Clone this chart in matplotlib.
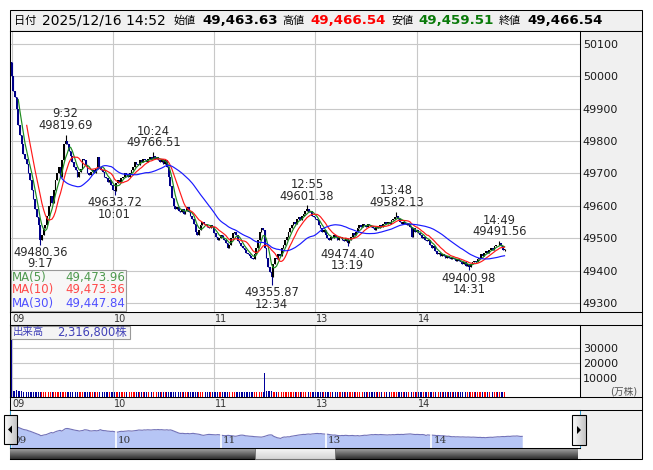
import matplotlib.pyplot as plt
import numpy as np
import pandas as pd
from matplotlib.patches import Rectangle, Polygon
from matplotlib.colors import to_rgb

plt.rcParams['font.family'] = ['DejaVu Sans', 'Noto Sans CJK JP']

W, H = 653, 470

# header (last 1-minute bar)
quote_time = "2025/12/16 14:52"
open_price = 49463.63
high_price = 49466.54
low_price = 49459.51
close_price = 49466.54

# 1-minute closes, 9:00-11:29 then 12:30-14:52 (lunch removed)
first_open = 50045.0
closes_am = [
    50000, 49955, 49935, 49900, 49850, 49820, 49790, 49760, 49745, 49730,
    49700, 49680, 49650, 49620, 49590, 49565, 49540, 49495, 49510, 49530,
    49540, 49570, 49600, 49630, 49610, 49650, 49680, 49700, 49720, 49690,
    49740, 49790, 49800, 49790, 49770, 49755, 49735, 49720, 49710, 49690,
    49705, 49715, 49745, 49740, 49725, 49700, 49695, 49705, 49710, 49700,
    49715, 49750, 49720, 49710, 49705, 49690, 49685, 49675, 49680, 49665,
    49650, 49645, 49670, 49680, 49675, 49685, 49690, 49700, 49695, 49690,
    49700, 49710, 49720, 49735, 49730, 49725, 49740, 49735, 49745, 49740,
    49735, 49745, 49750, 49745, 49755, 49745, 49750, 49740, 49735, 49745,
    49730, 49740, 49720, 49690, 49660, 49625, 49600, 49590, 49595, 49585,
    49580, 49590, 49575, 49585, 49595, 49580, 49570, 49560, 49545, 49520,
    49510, 49525, 49540, 49550, 49545, 49540, 49535, 49530, 49540, 49535,
    49515, 49505, 49495, 49500, 49510, 49500, 49495, 49485, 49470, 49480,
    49500, 49515, 49520, 49510, 49490, 49485, 49475, 49470, 49465, 49455,
    49450, 49445, 49440, 49435, 49450, 49470, 49495, 49520, 49530, 49525,
]
closes_pm = [
    49470, 49440, 49410, 49395, 49380, 49420, 49440, 49435, 49450, 49445,
    49470, 49480, 49495, 49505, 49520, 49530, 49540, 49550, 49545, 49560,
    49565, 49555, 49570, 49575, 49585, 49590, 49580, 49585, 49570, 49565,
    49560, 49555, 49540, 49530, 49520, 49525, 49510, 49500, 49495, 49505,
    49500, 49510, 49505, 49495, 49500, 49505, 49495, 49490, 49500, 49485,
    49495, 49505, 49515, 49510, 49520, 49530, 49540, 49535, 49545, 49540,
    49535, 49545, 49540, 49535, 49530, 49525, 49535, 49530, 49540, 49535,
    49545, 49550, 49545, 49550, 49545, 49555, 49560, 49565, 49570, 49560,
    49550, 49545, 49550, 49545, 49540, 49545, 49535, 49505, 49530, 49520,
    49525, 49515, 49510, 49500, 49505, 49495, 49490, 49495, 49480, 49470,
    49475, 49460, 49450, 49455, 49445, 49450, 49445, 49440, 49445, 49440,
    49435, 49440, 49435, 49430, 49435, 49430, 49425, 49420, 49425, 49415,
    49420, 49410, 49420, 49425, 49430, 49425, 49435, 49440, 49450, 49445,
    49455, 49460, 49455, 49465, 49470, 49465, 49475, 49480, 49478, 49485,
    49475, 49463.63, 49466.54,
]

# volume per minute (万株)
volumes = [
    50000, 4300, 4200, 4400, 4100, 4300, 4000, 3600, 3500, 3600, 3400, 3500, 3600, 3400, 3500,
    3300, 3500, 3600, 3400, 3500, 3300, 3400, 3500, 3300, 3200, 3400, 3300, 3500, 3300, 3200,
    3600, 3300, 3400, 3200, 3300, 3100, 3200, 3300, 3200, 3100, 3200, 3300, 3200, 3100, 3200,
    3300, 3100, 3200, 3300, 3100, 3200, 3300, 3100, 3200, 3100, 3200, 3300, 3100, 3200, 3100,
    3300, 3200, 3100, 3200, 3100, 3200, 3100, 3200, 3300, 3100, 3200, 3100, 3200, 3100, 3200,
    3100, 3200, 3300, 3100, 3200, 3100, 3200, 3100, 3200, 3100, 3200, 3100, 3200, 3100, 3200,
    3100, 3200, 3300, 3400, 3300, 3200, 3100, 3200, 3100, 3200, 3100, 3200, 3100, 3200, 3100,
    3200, 3100, 3200, 3100, 3200, 3100, 3200, 3100, 3200, 3100, 3200, 3100, 3200, 3100, 3200,
    3100, 3200, 3100, 3200, 3100, 3200, 3100, 3200, 3100, 3200, 3100, 3200, 3100, 3200, 3100,
    3200, 3100, 3200, 3100, 3200, 3100, 3200, 3100, 3200, 3100, 3200, 3100, 3200, 3100, 3300,
    16200, 4000, 3800, 3900, 3700, 3600, 3500, 3400, 3300, 3400, 3300, 3200, 3300, 3200, 3300,
    3200, 3100, 3200, 3300, 3100, 3200, 3100, 3200, 3300, 3200, 3100, 3200, 3100, 3200, 3100,
    3200, 3100, 3200, 3100, 3200, 3100, 3200, 3100, 3200, 3100, 3200, 3100, 3200, 3100, 3200,
    3100, 3200, 3100, 3200, 3100, 3200, 3100, 3200, 3100, 3200, 3100, 3200, 3100, 3200, 3100,
    3200, 3100, 3200, 3100, 3200, 3100, 3200, 3100, 3200, 3100, 3200, 3100, 3200, 3100, 3200,
    3100, 3200, 3100, 3200, 3100, 3200, 3100, 3200, 3100, 3200, 3100, 3200, 3100, 3200, 3100,
    3200, 3100, 3200, 3100, 3200, 3100, 3200, 3100, 3200, 3100, 3200, 3100, 3200, 3100, 3200,
    3100, 3200, 3100, 3200, 3100, 3200, 3100, 3200, 3100, 3200, 3100, 3200, 3100, 3200, 3100,
    3200, 3100, 3200, 3100, 3200, 3100, 3200, 3100, 3200, 3100, 3200, 3100, 3200, 3100, 3200,
    3100, 3200, 3100, 3200, 3100, 3200, 3100, 3200,
]
volume_last = "2,316,800株"

# marked highs / lows
high_times = ['9:32', '10:24', '12:55', '13:48', '14:49']
high_prices = [49819.69, 49766.51, 49601.38, 49582.13, 49491.56]
low_times = ['9:17', '10:01', '12:34', '13:19', '14:31']
low_prices = [49480.36, 49633.72, 49355.87, 49474.40, 49400.98]

ma_periods = [5, 10, 30]
ma_last = [49473.96, 49473.36, 49447.84]
ma_colors = ['#1e8c1e', '#ff1a1a', '#1a1aff']
ma_text_colors = ['#4f9a4f', '#ff4a4a', '#5050ff']

price_ticks = [49300, 49400, 49500, 49600, 49700, 49800, 49900, 50000, 50100]
volume_ticks = [10000, 20000, 30000]
hour_labels = ['09', '10', '11', '13', '14']
hour_pos = [0, 60, 120, 180, 240]


def to_index(hm):
    h, m = map(int, hm.split(':'))
    k = (h - 9) * 60 + m
    return k - 60 if k >= 210 else k


def box(x0, y0, x1, y1):
    return [x0 / W, 1 - y1 / H, (x1 - x0) / W, (y1 - y0) / H]


def gradient(ax, x0, x1, y0, y1, c_top, c_bot, z, horizontal=False):
    a, b = np.array(to_rgb(c_top)), np.array(to_rgb(c_bot))
    f = np.linspace(0, 1, 32)[:, None]
    img = (a + (b - a) * f)[:, None, :]
    if horizontal:
        img = img.transpose(1, 0, 2)
    ax.imshow(img, extent=(x0, x1, y1, y0), aspect='auto', zorder=z,
              interpolation='bilinear')


closes = np.array(closes_am + closes_pm, dtype=float)
t = np.arange(len(closes))
opens = np.concatenate([[first_open], closes[:-1]])
highs = np.maximum(opens, closes)
lows = np.minimum(opens, closes)
for tm, v in zip(high_times, high_prices):
    i = to_index(tm)
    highs[i] = max(highs[i], v)
for tm, v in zip(low_times, low_prices):
    i = to_index(tm)
    lows[i] = min(lows[i], v)
highs[-1] = max(highs[-1], high_price)
lows[-1] = min(lows[-1], low_price)
up = closes >= opens

fig = plt.figure(figsize=(6.53, 4.70), dpi=100)

# background chrome in pixel coordinates
bg = fig.add_axes([0, 0, 1, 1], label='bg', zorder=0)
bg.axis('off')
bg.add_patch(Rectangle((10, 10), 632, 21, fc='#f0f0f0', ec='black', lw=0.75))
bg.add_patch(Rectangle((10, 31), 632, 428, fc='#f0f0f0', ec='black', lw=0.75))
for yy in [312, 325, 397, 410]:
    bg.plot([10, 642], [yy, yy], color='black', lw=0.75)
bg.plot([10, 580], [448, 448], color='black', lw=0.75)
bg.plot([10, 580], [459, 459], color='black', lw=0.75)

# scrollbar
gradient(bg, 10, 255, 448, 459, '#a8a8a8', '#2e2e2e', 1)
gradient(bg, 335, 578, 448, 459, '#a8a8a8', '#2e2e2e', 1)
gradient(bg, 255, 335, 448, 459, '#f8f8f8', '#d4d4d4', 1)
bg.add_patch(Rectangle((255, 448), 80, 11, fc='none', ec='#777777', lw=0.7, zorder=2))

# header
ty = 20.5
bg.text(14, ty, '日付', fontsize=8, va='center')
bg.text(42, ty, quote_time, fontsize=10, va='center')
bg.text(174, ty, '始値', fontsize=8, va='center')
bg.text(202, ty, f"{open_price:,.2f}", fontsize=9.6, fontweight='bold', va='center')
bg.text(282, ty, '高値', fontsize=8, va='center')
bg.text(310, ty, f"{high_price:,.2f}", fontsize=9.6, fontweight='bold', va='center', color='#ff0000')
bg.text(391, ty, '安値', fontsize=8, va='center')
bg.text(418, ty, f"{low_price:,.2f}", fontsize=9.6, fontweight='bold', va='center', color='#0a7a0a')
bg.text(499, ty, '終値', fontsize=8, va='center')
bg.text(527, ty, f"{close_price:,.2f}", fontsize=9.6, fontweight='bold', va='center')
bg.set_xlim(0, W)
bg.set_ylim(H, 0)

# price pane
ax = fig.add_axes(box(10, 31, 580, 312), zorder=1)
ax.set_facecolor('white')
ax.set_xlim(-0.9, 336.7)
ax.set_ylim(49272, 50140)
ax.set_xticks(hour_pos)
ax.set_yticks(price_ticks)
ax.set_yticklabels([str(v) for v in price_ticks])
ax.yaxis.tick_right()
ax.tick_params(axis='x', length=0, labelbottom=False)
ax.tick_params(axis='y', length=0, pad=2, labelsize=8, labelcolor='#1a1a1a')
ax.grid(True, color='#c8c8c8', lw=0.8)
ax.set_axisbelow(True)
for s in ax.spines.values():
    s.set_linewidth(0.75)

cc = np.where(up, '#000000', '#000088')
ax.vlines(t, lows, highs, colors=cc, lw=0.8, zorder=2)
body_lo = np.minimum(opens, closes)
body_h = np.maximum(np.abs(closes - opens), 2.0)
ax.bar(t, body_h, bottom=body_lo, width=1.0, color=cc, linewidth=0, zorder=2)

s = pd.Series(closes)
for n, col in zip(ma_periods, ma_colors):
    ax.plot(t, s.rolling(n).mean(), color=col, lw=0.85, zorder=3)

for tm, v in zip(high_times, high_prices):
    ax.annotate(f"{tm}\n{v:.2f}", xy=(to_index(tm), v), xytext=(0, 2),
                textcoords='offset points', ha='center', va='bottom',
                fontsize=8.3, color='#2a2a2a', linespacing=0.85, zorder=4)
for tm, v in zip(low_times, low_prices):
    ax.annotate(f"{v:.2f}\n{tm}", xy=(to_index(tm), v), xytext=(0, -1),
                textcoords='offset points', ha='center', va='top',
                fontsize=8.3, color='#2a2a2a', linespacing=0.85, zorder=4)

# time bands
for y0, y1 in [(312, 325), (397, 410)]:
    band = fig.add_axes(box(10, y0, 580, y1), zorder=1)
    band.set_xlim(-0.9, 336.7)
    band.set_ylim(0, 1)
    band.axis('off')
    for lab, p in zip(hour_labels, hour_pos):
        band.text(p + 0.6, 0.45, lab, fontsize=7, color='#333333', va='center', ha='left')

# volume pane
vol_lo, vol_hi = -2667, 45333
av = fig.add_axes(box(10, 325, 580, 397), zorder=1)
av.set_facecolor('white')
av.set_xlim(-0.9, 336.7)
av.set_ylim(vol_lo, vol_hi)
av.set_xticks(hour_pos)
av.set_yticks(volume_ticks)
av.set_yticklabels([str(v) for v in volume_ticks])
av.yaxis.tick_right()
av.tick_params(axis='x', length=0, labelbottom=False)
av.tick_params(axis='y', length=0, pad=2, labelsize=8, labelcolor='#1a1a1a')
av.grid(True, color='#c8c8c8', lw=0.8)
av.set_axisbelow(True)
for sp in av.spines.values():
    sp.set_linewidth(0.75)
vc = np.where(up, '#ff0000', '#00009c')
av.bar(t, volumes, bottom=vol_lo, width=0.55, color=vc, linewidth=0)

# navigator
nav_lo, nav_hi = 48976, 50579
an = fig.add_axes(box(10, 410, 580, 448), zorder=1)
an.set_facecolor('white')
an.set_xlim(-0.6, 325)
an.set_ylim(nav_lo, nav_hi)
an.set_xticks([])
an.set_yticks([])
for k in ['left', 'right']:
    an.spines[k].set_color('#3399cc')
for sp in an.spines.values():
    sp.set_linewidth(0.75)
an.fill_between(t, closes, nav_lo, color='#b6c5f5', lw=0)
an.plot(t, closes, color='#7272b8', lw=0.8)
an.vlines(hour_pos[1:], nav_lo, nav_hi, colors='white', lw=1.2)
for lab, p in zip(hour_labels, hour_pos):
    an.text(p + 1.2, 0.2, lab, transform=an.get_xaxis_transform(), fontsize=7.5,
            family='DejaVu Serif', color='#333333', va='center', ha='left')

# overlay: legend boxes and buttons
ov = fig.add_axes([0, 0, 1, 1], label='ov', zorder=5)
ov.axis('off')
ov.patch.set_alpha(0)
ov.add_patch(Rectangle((10.5, 269.5), 115.5, 41.5, fc='#f7f7f7', ec='#999999', lw=0.8))
for k, (n, v) in enumerate(zip(ma_periods, ma_last)):
    yy = 277 + k * 13
    ov.text(12, yy, f"MA({n})", fontsize=8.5, color=ma_text_colors[k], va='center')
    ov.text(125, yy, f"{v:,.2f}", fontsize=8.5, color=ma_text_colors[k], va='center', ha='right')

ov.add_patch(Rectangle((10.5, 325.5), 119, 13.5, fc='#f4f4f4', ec='#999999', lw=0.8))
ov.text(12.5, 332.5, '出来高', fontsize=7.5, color='#4040b8', va='center')
ov.text(57, 332.5, volume_last, fontsize=8.3, color='#4040b8', va='center')
ov.text(637, 391, '(万株)', fontsize=7, color='#555555', va='center', ha='right')

gradient(ov, 4, 17, 415, 444, '#fdfdfd', '#c4c4c4', 6, horizontal=True)
ov.add_patch(Rectangle((4, 415), 13, 29, fc='none', ec='black', lw=0.8, zorder=7))
ov.add_patch(Polygon([(8, 429.5), (12, 425.5), (12, 433.5)], closed=True, fc='black', zorder=7))
gradient(ov, 572, 586, 415, 445, '#fdfdfd', '#c4c4c4', 6, horizontal=True)
ov.add_patch(Rectangle((572, 415), 14, 30, fc='none', ec='black', lw=0.8, zorder=7))
ov.add_patch(Polygon([(581, 430), (577, 426), (577, 434)], closed=True, fc='black', zorder=7))
ov.set_xlim(0, W)
ov.set_ylim(H, 0)

fig.savefig('out.png', dpi=100)
